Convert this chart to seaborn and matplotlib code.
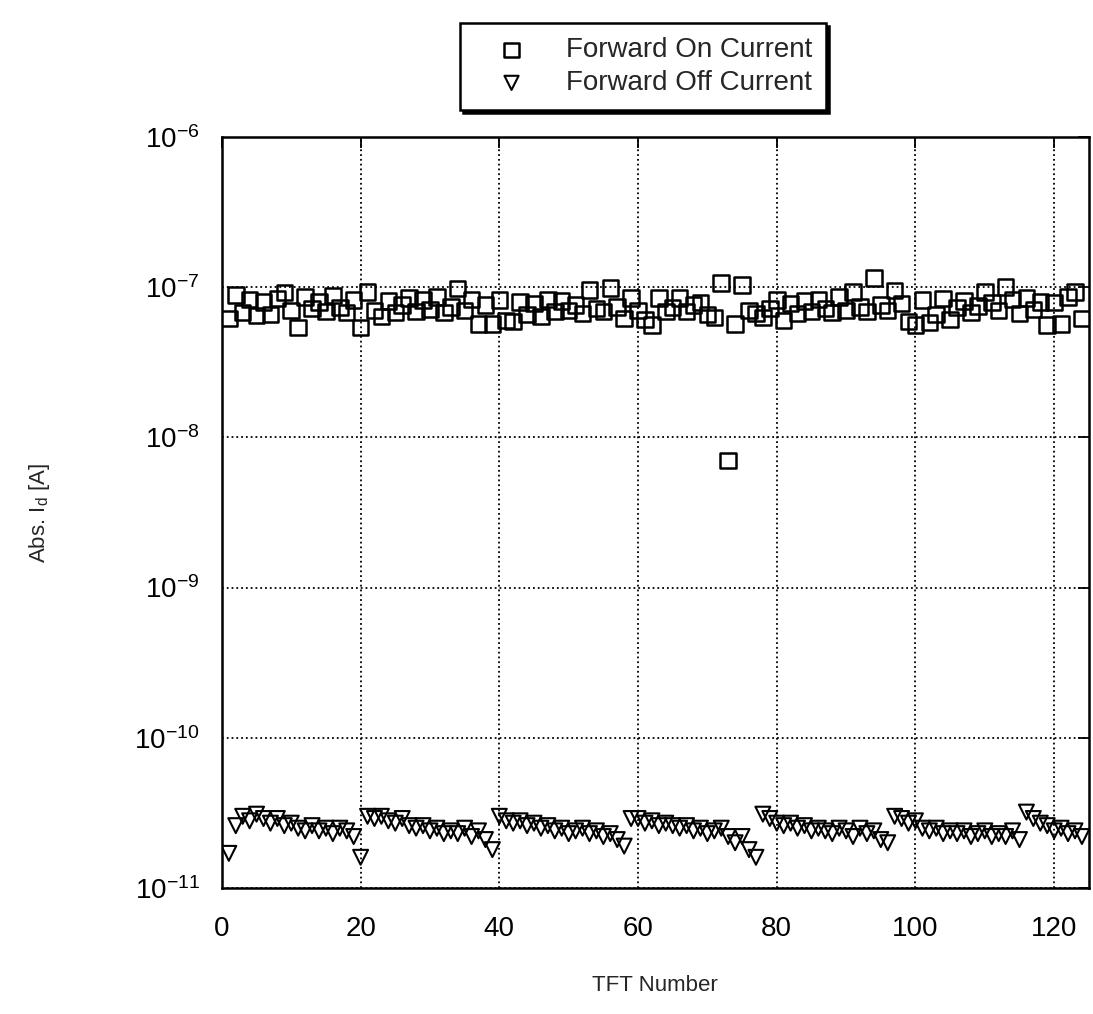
import numpy as np
import pandas as pd
import matplotlib
matplotlib.use('Agg')
import matplotlib.pyplot as plt
from matplotlib.ticker import LogLocator, NullLocator, MultipleLocator
import seaborn as sns

# TFT numbers 1..124
tft = list(range(1, 125))

# Forward on current, units of 1e-8 A
on_current = [6.2, 8.9, 6.8, 8.3, 6.5, 8.0, 6.6, 8.4, 9.2, 7.0,
              5.4, 8.6, 7.2, 8.0, 6.9, 8.8, 7.3, 6.8, 8.2, 5.4,
              9.3, 7.0, 6.4, 8.1, 6.8, 7.6, 8.5, 6.9, 8.2, 7.1,
              8.6, 6.8, 7.4, 9.8, 7.0, 8.3, 5.7, 7.6, 5.7, 8.2,
              6.0, 5.9, 8.0, 6.6, 7.8, 6.4, 8.3, 6.9, 8.1, 7.0,
              7.6, 6.7, 9.6, 7.2, 6.9, 9.9, 7.4, 6.2, 8.5, 7.0,
              6.1, 5.6, 8.5, 6.9, 7.3, 8.5, 6.9, 7.6, 7.9, 6.6,
              6.3, 10.7, 0.7, 5.7, 10.3, 7.0, 6.7, 6.3, 7.2, 8.2,
              6.0, 7.8, 6.7, 8.1, 6.9, 8.3, 7.2, 6.8, 8.6, 7.0,
              9.3, 7.4, 6.9, 11.5, 7.6, 7.0, 9.5, 7.8, 5.9, 5.6,
              8.2, 5.8, 6.6, 8.4, 6.1, 7.3, 8.1, 6.8, 7.5, 9.3,
              7.9, 7.0, 10.0, 8.3, 6.7, 8.5, 7.1, 8.0, 5.6, 7.9,
              5.7, 8.6, 9.3, 6.2]

# Forward off current, units of 1e-11 A
off_current = [1.7, 2.6, 3.0, 2.8, 3.1, 2.9, 2.7, 2.9, 2.6, 2.7,
               2.5, 2.4, 2.6, 2.4, 2.5, 2.3, 2.5, 2.4, 2.2, 1.6,
               3.0, 2.9, 3.0, 2.8, 2.7, 2.9, 2.6, 2.5, 2.6, 2.4,
               2.5, 2.3, 2.4, 2.3, 2.5, 2.2, 2.4, 2.1, 1.8, 3.0,
               2.8, 2.7, 2.8, 2.6, 2.7, 2.5, 2.6, 2.4, 2.5, 2.3,
               2.4, 2.5, 2.3, 2.4, 2.2, 2.3, 2.1, 1.9, 2.9, 2.9,
               2.7, 2.8, 2.6, 2.7, 2.6, 2.5, 2.6, 2.4, 2.5, 2.3,
               2.4, 2.5, 2.2, 2.0, 2.2, 1.8, 1.6, 3.1, 2.9, 2.7,
               2.6, 2.7, 2.5, 2.6, 2.4, 2.5, 2.4, 2.3, 2.5, 2.4,
               2.2, 2.5, 2.3, 2.4, 2.1, 2.0, 3.0, 2.9, 2.7, 2.8,
               2.5, 2.4, 2.5, 2.3, 2.4, 2.3, 2.4, 2.2, 2.3, 2.4,
               2.2, 2.3, 2.2, 2.4, 2.1, 3.2, 2.9, 2.7, 2.6, 2.4,
               2.5, 2.3, 2.4, 2.2]

df = pd.DataFrame({
    'tft': tft,
    'on': np.array(on_current) * 1e-8,
    'off': np.array(off_current) * 1e-11,
})

sns.set_style('white')
plt.rcParams['font.family'] = ['Liberation Sans', 'DejaVu Sans']
plt.rcParams['mathtext.fontset'] = 'custom'
plt.rcParams['mathtext.rm'] = 'Liberation Sans'
plt.rcParams['mathtext.it'] = 'Liberation Sans:italic'
plt.rcParams['axes.unicode_minus'] = False

fig = plt.figure(figsize=(10.93, 10.14), dpi=100)
ax = fig.add_axes([0.203, 0.1243, 0.7932, 0.7406])

sns.scatterplot(data=df, x='tft', y='on', marker='s', s=125,
                facecolors='none', edgecolor='black', linewidth=1.8,
                ax=ax, label='Forward On Current', zorder=3)
sns.scatterplot(data=df, x='tft', y='off', marker='v', s=115,
                facecolors='none', edgecolor='black', linewidth=1.5,
                ax=ax, label='Forward Off Current', zorder=3)

ax.set_yscale('log')
ax.set_ylim(1e-11, 1e-6)
ax.set_xlim(0, 125)
ax.xaxis.set_major_locator(MultipleLocator(20))
ax.yaxis.set_major_locator(LogLocator(base=10, numticks=10))
ax.yaxis.set_minor_locator(NullLocator())

ax.grid(True, which='major', color='black', linestyle=':', linewidth=1.3)
ax.tick_params(direction='in', length=8, width=1.3, top=True, right=True,
               labelsize=20, colors='black')
ax.tick_params(axis='x', pad=20)
ax.tick_params(axis='y', pad=16)
for sp in ax.spines.values():
    sp.set_color('black')
    sp.set_linewidth(1.8)

ax.set_xlabel('TFT Number', fontsize=16)
ax.set_ylabel(r'Abs. I$_\mathregular{d}$ [A]', fontsize=16)
ax.xaxis.set_label_coords(0.5, -0.116)
ax.yaxis.set_label_coords(-0.196, 0.5)

leg = ax.legend(loc='upper left', bbox_to_anchor=(0.421, 0.977),
                bbox_transform=fig.transFigure, borderaxespad=0,
                fontsize=20, frameon=True, fancybox=False,
                borderpad=0.5, handlelength=2.7, handletextpad=0.6,
                labelspacing=0.25, markerscale=0.95,
                shadow={'color': 'black', 'alpha': 1})
leg.get_frame().set_edgecolor('black')
leg.get_frame().set_linewidth(1.8)
leg.get_frame().set_alpha(1)

fig.savefig('out.png', dpi=100)
